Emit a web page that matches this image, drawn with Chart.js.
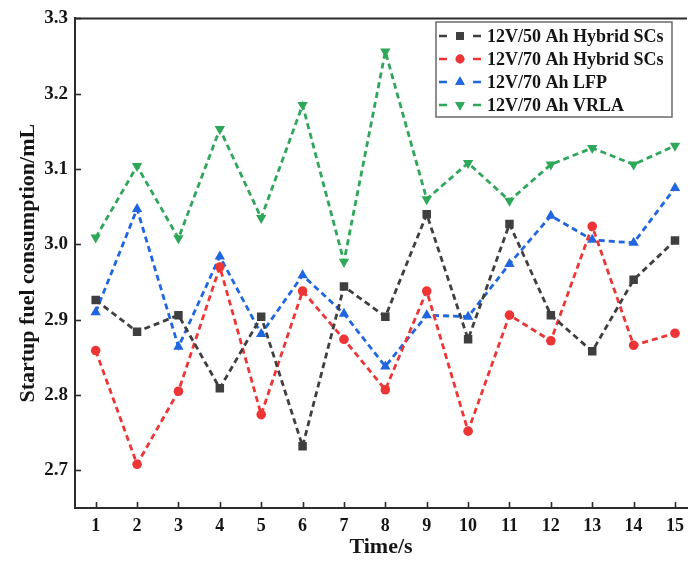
<!DOCTYPE html>
<html>
<head>
<meta charset="utf-8">
<script src="https://cdn.jsdelivr.net/npm/chart.js@4.4.0/dist/chart.umd.min.js"></script>
<style>
  html, body { margin: 0; padding: 0; background: #fff; }
  #wrap { width: 693px; height: 563px; position: relative; }
</style>
</head>
<body>
<div id="wrap"><canvas id="c" width="693" height="563"></canvas></div>
<script>
// ---- data ----
const times = [1, 2, 3, 4, 5, 6, 7, 8, 9, 10, 11, 12, 13, 14, 15];
const seriesNames = ['12V/50 Ah Hybrid SCs', '12V/70 Ah Hybrid SCs', '12V/70 Ah LFP', '12V/70 Ah VRLA'];
const hybrid50 = [2.926, 2.884, 2.906, 2.809, 2.904, 2.732, 2.944, 2.904, 3.040, 2.874, 3.027, 2.906, 2.858, 2.953, 3.005];
const hybrid70 = [2.859, 2.708, 2.805, 2.970, 2.774, 2.938, 2.874, 2.807, 2.938, 2.752, 2.906, 2.872, 3.024, 2.866, 2.882];
const lfp70    = [2.910, 3.047, 2.864, 2.984, 2.881, 2.959, 2.908, 2.838, 2.906, 2.904, 2.974, 3.038, 3.006, 3.002, 3.075];
const vrla70   = [3.009, 3.104, 3.008, 3.153, 3.035, 3.185, 2.977, 3.256, 3.060, 3.108, 3.058, 3.106, 3.128, 3.106, 3.131];
const yTickValues = [2.7, 2.8, 2.9, 3.0, 3.1, 3.2, 3.3];
const xTickValues = [1, 2, 3, 4, 5, 6, 7, 8, 9, 10, 11, 12, 13, 14, 15];
const xTitle = 'Time/s';
const yTitle = 'Startup fuel consumption/mL';

const FONT = '"Liberation Serif", "Times New Roman", serif';
const colors = ['#3f3f3f', '#ee3535', '#1f66e0', '#2fa75a'];
const styles = [
  { pointStyle: 'rect', radius: 6, rotation: 0 },
  { pointStyle: 'circle', radius: 4.8, rotation: 0 },
  { pointStyle: 'triangle', radius: 6, rotation: 0 },
  { pointStyle: 'triangle', radius: 6, rotation: 180 }
];
const seriesValues = [hybrid50, hybrid70, lfp70, vrla70];

const datasets = seriesValues.map((vals, i) => ({
  label: seriesNames[i],
  data: vals.map((v, k) => ({ x: times[k], y: v })),
  borderColor: colors[i],
  backgroundColor: colors[i],
  pointBackgroundColor: colors[i],
  pointBorderColor: colors[i],
  pointBorderWidth: 0,
  borderWidth: 2.8,
  borderDash: [6, 4],
  pointStyle: styles[i].pointStyle,
  pointRadius: styles[i].radius,
  pointRotation: styles[i].rotation,
  tension: 0,
  fill: false
}));

const frameColor = '#2b2b2b';

const decorPlugin = {
  id: 'decor',
  afterDraw(chart) {
    const ctx = chart.ctx;
    const { left, right, top, bottom } = chart.chartArea;
    const xs = chart.scales.x, ys = chart.scales.y;
    ctx.save();
    // top frame line
    ctx.strokeStyle = frameColor;
    ctx.lineWidth = 2;
    ctx.beginPath();
    ctx.moveTo(left - 1, top);
    ctx.lineTo(right, top);
    ctx.stroke();
    // inward ticks
    ctx.lineWidth = 1.6;
    ys.ticks.forEach(t => {
      const p = Math.round(ys.getPixelForValue(t.value)) + 0.5;
      ctx.beginPath(); ctx.moveTo(left, p); ctx.lineTo(left + 6, p); ctx.stroke();
    });
    xs.ticks.forEach(t => {
      const p = Math.round(xs.getPixelForValue(t.value)) + 0.5;
      ctx.beginPath(); ctx.moveTo(p, bottom); ctx.lineTo(p, bottom - 6); ctx.stroke();
    });
    // legend
    const bx = 436, by = 22, bw = 236, bh = 95;
    ctx.fillStyle = '#fff';
    ctx.fillRect(bx, by, bw, bh);
    ctx.strokeStyle = '#6a6a6a';
    ctx.lineWidth = 1.5;
    ctx.strokeRect(bx, by, bw, bh);
    const rowY = [36, 59, 82, 105];
    chart.data.datasets.forEach((ds, i) => {
      const y = rowY[i];
      ctx.strokeStyle = ds.borderColor;
      ctx.lineWidth = 2.6;
      ctx.beginPath();
      ctx.moveTo(439, y); ctx.lineTo(447, y);
      ctx.moveTo(473, y); ctx.lineTo(481, y);
      ctx.stroke();
      ctx.fillStyle = ds.borderColor;
      ctx.beginPath();
      Chart.helpers.drawPoint(ctx, {
        pointStyle: ds.pointStyle, radius: ds.pointRadius * 0.92,
        rotation: ds.pointRotation, borderWidth: 0
      }, 460, y);
      ctx.fill();
      ctx.fillStyle = '#151515';
      ctx.font = 'bold 18px ' + FONT;
      ctx.textBaseline = 'middle';
      ctx.textAlign = 'left';
      ctx.fillText(ds.label, 487, y + 1);
    });
    ctx.restore();
  }
};

new Chart(document.getElementById('c'), {
  type: 'line',
  data: { datasets },
  options: {
    responsive: false,
    animation: false,
    layout: { padding: { top: 14, right: 0, left: 0, bottom: 0 } },
    plugins: { legend: { display: false }, tooltip: { enabled: false } },
    scales: {
      x: {
        type: 'linear',
        min: 0.5,
        max: 15.29,
        afterBuildTicks: s => { s.ticks = xTickValues.map(v => ({ value: v })); },
        afterFit: s => { s.height = 55; s.paddingLeft = 0; s.paddingRight = 0; },
        grid: { display: false, drawTicks: false },
        border: { display: true, color: frameColor, width: 2 },
        ticks: {
          padding: 8,
          color: '#151515',
          font: { family: FONT, size: 18, weight: 'bold' },
          maxRotation: 0,
          autoSkip: false
        },
        title: {
          display: true, text: xTitle, color: '#151515',
          font: { family: FONT, size: 22, weight: 'bold' },
          padding: { top: 0, bottom: 2 }
        }
      },
      y: {
        type: 'linear',
        min: 2.65,
        max: 3.3,
        afterBuildTicks: s => { s.ticks = yTickValues.map(v => ({ value: v })); },
        afterFit: s => { s.width = 75; },
        grid: { display: false, drawTicks: false },
        border: { display: true, color: frameColor, width: 2 },
        ticks: {
          padding: 7,
          color: '#151515',
          font: { family: FONT, size: 19, weight: 'bold' },
          callback: v => Number(v).toFixed(1)
        },
        title: {
          display: true, text: yTitle, color: '#151515',
          font: { family: FONT, size: 22, weight: 'bold' },
          padding: { top: 15, bottom: 0 }
        }
      }
    }
  },
  plugins: [decorPlugin]
});
</script>
</body>
</html>
